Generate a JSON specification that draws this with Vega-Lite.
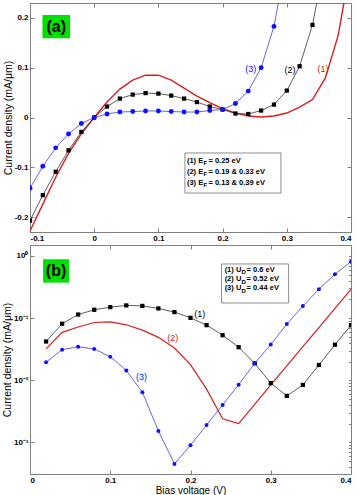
{
"$schema":"https://vega.github.io/schema/vega-lite/v6.json",
"padding":{"left":1,"top":2,"right":6,"bottom":0},
"spacing":1,
"resolve":{"scale":{"color":"independent"}},
"config":{
 "view":{"stroke":"#808080","strokeWidth":1},
 "axis":{"labelFont":"Liberation Sans","labelFontWeight":"bold","labelFontSize":8,"labelColor":"#000","titleFont":"Liberation Sans","titleFontSize":10.5,"titleFontWeight":"normal","titleColor":"#000","domainColor":"#808080","tickColor":"#808080","grid":false,"tickSize":-4,"labelPadding":6,"titlePadding":1,"labelOverlap":false},
 "text":{"font":"Liberation Sans"}
},
"datasets":{
 "a":[
  {"s":"1","V":-0.1,"I":-0.228},{"s":"1","V":-0.08,"I":-0.174},{"s":"1","V":-0.06,"I":-0.12},{"s":"1","V":-0.04,"I":-0.072},{"s":"1","V":-0.02,"I":-0.033},{"s":"1","V":0,"I":0},{"s":"1","V":0.02,"I":0.031},{"s":"1","V":0.04,"I":0.057},{"s":"1","V":0.06,"I":0.075},{"s":"1","V":0.08,"I":0.085},{"s":"1","V":0.1,"I":0.085},{"s":"1","V":0.12,"I":0.075},{"s":"1","V":0.14,"I":0.059},{"s":"1","V":0.16,"I":0.043},{"s":"1","V":0.18,"I":0.03},{"s":"1","V":0.2,"I":0.018},{"s":"1","V":0.22,"I":0.009},{"s":"1","V":0.24,"I":0.003},{"s":"1","V":0.26,"I":0.001},{"s":"1","V":0.28,"I":0.003},{"s":"1","V":0.3,"I":0.009},{"s":"1","V":0.32,"I":0.021},{"s":"1","V":0.34,"I":0.036},{"s":"1","V":0.36,"I":0.079},{"s":"1","V":0.38,"I":0.165},{"s":"1","V":0.4,"I":0.31},
  {"s":"2","V":-0.1,"I":-0.207},{"s":"2","V":-0.08,"I":-0.156},{"s":"2","V":-0.06,"I":-0.109},{"s":"2","V":-0.04,"I":-0.066},{"s":"2","V":-0.02,"I":-0.029},{"s":"2","V":0,"I":0},{"s":"2","V":0.02,"I":0.022},{"s":"2","V":0.04,"I":0.038},{"s":"2","V":0.06,"I":0.046},{"s":"2","V":0.08,"I":0.049},{"s":"2","V":0.1,"I":0.048},{"s":"2","V":0.12,"I":0.044},{"s":"2","V":0.14,"I":0.038},{"s":"2","V":0.16,"I":0.031},{"s":"2","V":0.18,"I":0.022},{"s":"2","V":0.2,"I":0.016},{"s":"2","V":0.22,"I":0.008},{"s":"2","V":0.24,"I":0.007},{"s":"2","V":0.26,"I":0.014},{"s":"2","V":0.28,"I":0.026},{"s":"2","V":0.3,"I":0.054},{"s":"2","V":0.32,"I":0.103},{"s":"2","V":0.34,"I":0.186},{"s":"2","V":0.36,"I":0.32},
  {"s":"3","V":-0.1,"I":-0.142},{"s":"3","V":-0.08,"I":-0.098},{"s":"3","V":-0.06,"I":-0.061},{"s":"3","V":-0.04,"I":-0.033},{"s":"3","V":-0.02,"I":-0.012},{"s":"3","V":0,"I":0},{"s":"3","V":0.02,"I":0.007},{"s":"3","V":0.04,"I":0.011},{"s":"3","V":0.06,"I":0.012},{"s":"3","V":0.08,"I":0.013},{"s":"3","V":0.1,"I":0.013},{"s":"3","V":0.12,"I":0.012},{"s":"3","V":0.14,"I":0.011},{"s":"3","V":0.16,"I":0.011},{"s":"3","V":0.18,"I":0.014},{"s":"3","V":0.2,"I":0.016},{"s":"3","V":0.22,"I":0.028},{"s":"3","V":0.24,"I":0.053},{"s":"3","V":0.26,"I":0.1},{"s":"3","V":0.28,"I":0.183},{"s":"3","V":0.3,"I":0.32},
  {"k":"lab","s":"1","V":0.3564,"I":0.0968,"t":"(1)"},{"k":"lab","s":"2","V":0.305,"I":0.0948,"t":"(2)"},{"k":"lab","s":"3","V":0.2437,"I":0.0968,"t":"(3)"},
  {"k":"box","V":0.1413,"I":-0.0713,"V2":0.2909,"I2":-0.1517},
  {"k":"legA","V":0.1698,"I":-0.0864,"t":"(1) E"},{"k":"legA","V":0.1698,"I":-0.1085,"t":"(2) E"},{"k":"legA","V":0.1698,"I":-0.1306,"t":"(3) E"},
  {"k":"legS","V":0.1703,"I":-0.0864,"t":"F"},{"k":"legS","V":0.1703,"I":-0.1085,"t":"F"},{"k":"legS","V":0.1703,"I":-0.1306,"t":"F"},
  {"k":"legB","V":0.1779,"I":-0.0864,"t":"= 0.25 eV"},{"k":"legB","V":0.1779,"I":-0.1085,"t":"= 0.19 & 0.33 eV"},{"k":"legB","V":0.1779,"I":-0.1306,"t":"= 0.13 & 0.39 eV"},
  {"k":"tag","V":-0.0806,"I":0.2059,"V2":-0.0376,"I2":0.1591},
  {"k":"tagt","V":-0.0591,"I":0.1818,"t":"(a)"}
 ],
 "b":[
  {"s":"1","V":0.02,"I":0.042},{"s":"1","V":0.04,"I":0.081},{"s":"1","V":0.06,"I":0.114},{"s":"1","V":0.08,"I":0.136},{"s":"1","V":0.1,"I":0.15},{"s":"1","V":0.12,"I":0.16},{"s":"1","V":0.14,"I":0.157},{"s":"1","V":0.16,"I":0.143},{"s":"1","V":0.18,"I":0.125},{"s":"1","V":0.2,"I":0.101},{"s":"1","V":0.22,"I":0.077},{"s":"1","V":0.24,"I":0.053},{"s":"1","V":0.26,"I":0.034},{"s":"1","V":0.28,"I":0.0187},{"s":"1","V":0.3,"I":0.009},{"s":"1","V":0.32,"I":0.0056},{"s":"1","V":0.34,"I":0.0084},{"s":"1","V":0.36,"I":0.0176},{"s":"1","V":0.38,"I":0.0373},{"s":"1","V":0.4,"I":0.077},
  {"s":"2","V":0.02,"I":0.032},{"s":"2","V":0.04,"I":0.059},{"s":"2","V":0.06,"I":0.072},{"s":"2","V":0.08,"I":0.085},{"s":"2","V":0.1,"I":0.087},{"s":"2","V":0.12,"I":0.078},{"s":"2","V":0.14,"I":0.064},{"s":"2","V":0.16,"I":0.049},{"s":"2","V":0.18,"I":0.033},{"s":"2","V":0.2,"I":0.0178},{"s":"2","V":0.22,"I":0.0072},{"s":"2","V":0.24,"I":0.0024},{"s":"2","V":0.26,"I":0.002},{"s":"2","V":0.28,"I":0.0041},{"s":"2","V":0.3,"I":0.0084},{"s":"2","V":0.32,"I":0.017},{"s":"2","V":0.34,"I":0.0346},{"s":"2","V":0.36,"I":0.07},{"s":"2","V":0.38,"I":0.143},{"s":"2","V":0.4,"I":0.29},
  {"s":"3","V":0.02,"I":0.0194},{"s":"3","V":0.04,"I":0.031},{"s":"3","V":0.06,"I":0.0346},{"s":"3","V":0.08,"I":0.0318},{"s":"3","V":0.1,"I":0.0239},{"s":"3","V":0.12,"I":0.0144},{"s":"3","V":0.14,"I":0.0064},{"s":"3","V":0.16,"I":0.00153},{"s":"3","V":0.18,"I":0.00045},{"s":"3","V":0.2,"I":0.0009},{"s":"3","V":0.22,"I":0.0019},{"s":"3","V":0.24,"I":0.004},{"s":"3","V":0.26,"I":0.0085},{"s":"3","V":0.28,"I":0.0187},{"s":"3","V":0.3,"I":0.0377},{"s":"3","V":0.32,"I":0.08},{"s":"3","V":0.34,"I":0.156},{"s":"3","V":0.36,"I":0.292},{"s":"3","V":0.38,"I":0.508},{"s":"3","V":0.4,"I":0.81},
  {"k":"lab","s":"1","V":0.2115,"I":0.118,"t":"(1)"},{"k":"lab","s":"2","V":0.1778,"I":0.0475,"t":"(2)"},{"k":"lab","s":"3","V":0.139,"I":0.01135,"t":"(3)"},
  {"k":"box","V":0.2387,"I":0.743,"V2":0.3223,"I2":0.175},
  {"k":"legA","V":0.2633,"I":0.596,"t":"(1) U"},{"k":"legA","V":0.2633,"I":0.422,"t":"(2) U"},{"k":"legA","V":0.2633,"I":0.3,"t":"(3) U"},
  {"k":"legS","V":0.2637,"I":0.596,"t":"D"},{"k":"legS","V":0.2637,"I":0.422,"t":"D"},{"k":"legS","V":0.2637,"I":0.3,"t":"D"},
  {"k":"legB","V":0.2699,"I":0.596,"t":"= 0.6 eV"},{"k":"legB","V":0.2699,"I":0.422,"t":"= 0.52 eV"},{"k":"legB","V":0.2699,"I":0.3,"t":"= 0.44 eV"},
  {"k":"tag","V":0.0163,"I":0.885,"V2":0.0487,"I2":0.372},
  {"k":"tagt","V":0.0325,"I":0.574,"t":"(b)"}
 ]
},
"vconcat":[
 {
  "width":321,"height":229,
  "data":{"name":"a"},
  "resolve":{"axis":{"x":"independent","y":"independent"}},
  "encoding":{
   "x":{"field":"V","type":"quantitative","scale":{"domain":[-0.1,0.4],"nice":false,"zero":false},"axis":null},
   "y":{"field":"I","type":"quantitative","scale":{"domain":[-0.23,0.23],"nice":false,"zero":false},"axis":null}
  },
  "layer":[
   {"data":{"values":[{"z":0}]},"mark":{"type":"rule","strokeDash":[6,3,1,3],"color":"#555","strokeWidth":0.8},"encoding":{"x":{"datum":0},"y":{"datum":-0.23},"y2":{"datum":0.23}}},
   {"data":{"values":[{"z":0}]},"mark":{"type":"rule","strokeDash":[6,3,1,3],"color":"#555","strokeWidth":0.8},"encoding":{"y":{"datum":0},"x":{"datum":-0.1},"x2":{"datum":0.4}}},
   {"transform":[{"filter":"datum.s=='1' && !datum.k"}],"mark":{"type":"line","color":"#d42020","strokeWidth":1.4,"clip":true},
    "encoding":{
     "x":{"field":"V","type":"quantitative","axis":{"orient":"bottom","values":[-0.1,0,0.1,0.2,0.3,0.4],"title":null,"labelExpr":"datum.value==0?'0':replace(format(datum.value,'.1f'),'−','-')"}},
     "y":{"field":"I","type":"quantitative","axis":{"orient":"left","values":[-0.2,-0.1,0,0.1,0.2],"title":"Current density (mA/μm)","labelExpr":"datum.value==0?'0':replace(format(datum.value,'.1f'),'−','-')"}}}},
   {"transform":[{"filter":"datum.s=='2' && !datum.k"}],"mark":{"type":"line","color":"#333","strokeWidth":0.8,"clip":true},
    "encoding":{
     "x":{"field":"V","type":"quantitative","axis":{"orient":"top","values":[-0.1,0,0.1,0.2,0.3,0.4],"title":null,"labels":false,"domain":false,"maxExtent":0,"minExtent":0}},
     "y":{"field":"I","type":"quantitative","axis":{"orient":"right","values":[-0.2,-0.1,0,0.1,0.2],"title":null,"labels":false,"domain":false,"maxExtent":0,"minExtent":0}}}},
   {"transform":[{"filter":"datum.s=='2' && !datum.k"}],"mark":{"type":"point","shape":"square","filled":true,"color":"#000","size":18,"opacity":1,"clip":true}},
   {"transform":[{"filter":"datum.s=='3' && !datum.k"}],"mark":{"type":"line","color":"#4040d0","strokeWidth":0.8,"clip":true}},
   {"transform":[{"filter":"datum.s=='3' && !datum.k"}],"mark":{"type":"point","shape":"circle","filled":true,"color":"#1010ff","size":24,"opacity":1,"clip":true}},
   {"transform":[{"filter":"datum.k=='lab'"}],"mark":{"type":"text","fontSize":9,"align":"center","baseline":"middle"},
    "encoding":{"text":{"field":"t"},"color":{"field":"s","type":"nominal","scale":{"domain":["1","2","3"],"range":["#d42020","#000000","#1414ff"]},"legend":null}}},
   {"transform":[{"filter":"datum.k=='box'"}],"mark":{"type":"rect","fill":"#fff","stroke":"#707070","strokeWidth":0.8},
    "encoding":{"x2":{"field":"V2"},"y2":{"field":"I2"}}},
   {"transform":[{"filter":"datum.k=='legA'"}],"mark":{"type":"text","fontSize":7.5,"fontWeight":"bold","align":"right","baseline":"middle","color":"#000"},"encoding":{"text":{"field":"t"}}},
   {"transform":[{"filter":"datum.k=='legS'"}],"mark":{"type":"text","fontSize":6,"fontWeight":"bold","align":"left","baseline":"middle","dy":2.5,"color":"#000"},"encoding":{"text":{"field":"t"}}},
   {"transform":[{"filter":"datum.k=='legB'"}],"mark":{"type":"text","fontSize":7.5,"fontWeight":"bold","align":"left","baseline":"middle","color":"#000"},"encoding":{"text":{"field":"t"}}},
   {"transform":[{"filter":"datum.k=='tag'"}],"mark":{"type":"rect","fill":"#00e000"},"encoding":{"x2":{"field":"V2"},"y2":{"field":"I2"}}},
   {"transform":[{"filter":"datum.k=='tagt'"}],"mark":{"type":"text","fontSize":16,"fontWeight":"bold","align":"center","baseline":"middle","color":"#000"},"encoding":{"text":{"field":"t"}}}
  ]
 },
 {
  "width":321,"height":229,
  "data":{"name":"b"},
  "resolve":{"axis":{"x":"independent","y":"independent"}},
  "encoding":{
   "x":{"field":"V","type":"quantitative","scale":{"domain":[0,0.4],"nice":false,"zero":false},"axis":null},
   "y":{"field":"I","type":"quantitative","scale":{"type":"log","domain":[0.00031,1.5],"nice":false},"axis":null}
  },
  "layer":[
   {"transform":[{"filter":"datum.s=='2' && !datum.k"}],"mark":{"type":"line","color":"#d42020","strokeWidth":1.2,"clip":true},
    "encoding":{
     "x":{"field":"V","type":"quantitative","axis":{"orient":"bottom","values":[0,0.1,0.2,0.3,0.4],"title":"Bias voltage (V)","titlePadding":1,"titleFontSize":10,"labelExpr":"datum.value==0?'0':format(datum.value,'.1f')"}},
     "y":{"field":"I","type":"quantitative","axis":{"orient":"left","values":[0.001,0.01,0.1,1],"title":"Current density (mA/μm)","labelExpr":"datum.value>=0.5?'10⁰':datum.value>=0.05?'10⁻¹':datum.value>=0.005?'10⁻²':'10⁻³'"}}}},
   {"transform":[{"filter":"datum.s=='1' && !datum.k"}],"mark":{"type":"line","color":"#333","strokeWidth":0.8,"clip":true},
    "encoding":{
     "x":{"field":"V","type":"quantitative","axis":{"orient":"top","values":[0.1,0.2,0.3],"title":null,"labels":false,"domain":false,"maxExtent":0,"minExtent":0}},
     "y":{"field":"I","type":"quantitative","axis":{"orient":"right","values":[0.0004,0.0005,0.0006,0.0007,0.0008,0.0009,0.001,0.002,0.003,0.004,0.005,0.006,0.007,0.008,0.009,0.01,0.02,0.03,0.04,0.05,0.06,0.07,0.08,0.09,0.1,0.2,0.3,0.4,0.5,0.6,0.7,0.8,0.9,1],"title":null,"labels":false,"domain":false,"tickSize":-2.5,"maxExtent":0,"minExtent":0}}}},
   {"transform":[{"filter":"datum.s=='1' && !datum.k"}],"mark":{"type":"point","shape":"square","filled":true,"color":"#000","size":18,"opacity":1,"clip":true}},
   {"transform":[{"filter":"datum.s=='3' && !datum.k"}],"mark":{"type":"line","color":"#4040d0","strokeWidth":0.8,"clip":true}},
   {"transform":[{"filter":"datum.s=='3' && !datum.k"}],"mark":{"type":"point","shape":"circle","filled":true,"color":"#1010ff","size":16,"opacity":1,"clip":true}},
   {"transform":[{"filter":"datum.k=='lab'"}],"mark":{"type":"text","fontSize":9,"align":"center","baseline":"middle"},
    "encoding":{"text":{"field":"t"},"color":{"field":"s","type":"nominal","scale":{"domain":["1","2","3"],"range":["#000000","#d42020","#1414ff"]},"legend":null}}},
   {"transform":[{"filter":"datum.k=='box'"}],"mark":{"type":"rect","fill":"#fff","stroke":"#707070","strokeWidth":0.8},
    "encoding":{"x2":{"field":"V2"},"y2":{"field":"I2"}}},
   {"transform":[{"filter":"datum.k=='legA'"}],"mark":{"type":"text","fontSize":7.5,"fontWeight":"bold","align":"right","baseline":"middle","color":"#000"},"encoding":{"text":{"field":"t"}}},
   {"transform":[{"filter":"datum.k=='legS'"}],"mark":{"type":"text","fontSize":6,"fontWeight":"bold","align":"left","baseline":"middle","dy":2.5,"color":"#000"},"encoding":{"text":{"field":"t"}}},
   {"transform":[{"filter":"datum.k=='legB'"}],"mark":{"type":"text","fontSize":7.5,"fontWeight":"bold","align":"left","baseline":"middle","color":"#000"},"encoding":{"text":{"field":"t"}}},
   {"transform":[{"filter":"datum.k=='tag'"}],"mark":{"type":"rect","fill":"#00e000"},"encoding":{"x2":{"field":"V2"},"y2":{"field":"I2"}}},
   {"transform":[{"filter":"datum.k=='tagt'"}],"mark":{"type":"text","fontSize":16,"fontWeight":"bold","align":"center","baseline":"middle","color":"#000"},"encoding":{"text":{"field":"t"}}}
  ]
 }
]
}
